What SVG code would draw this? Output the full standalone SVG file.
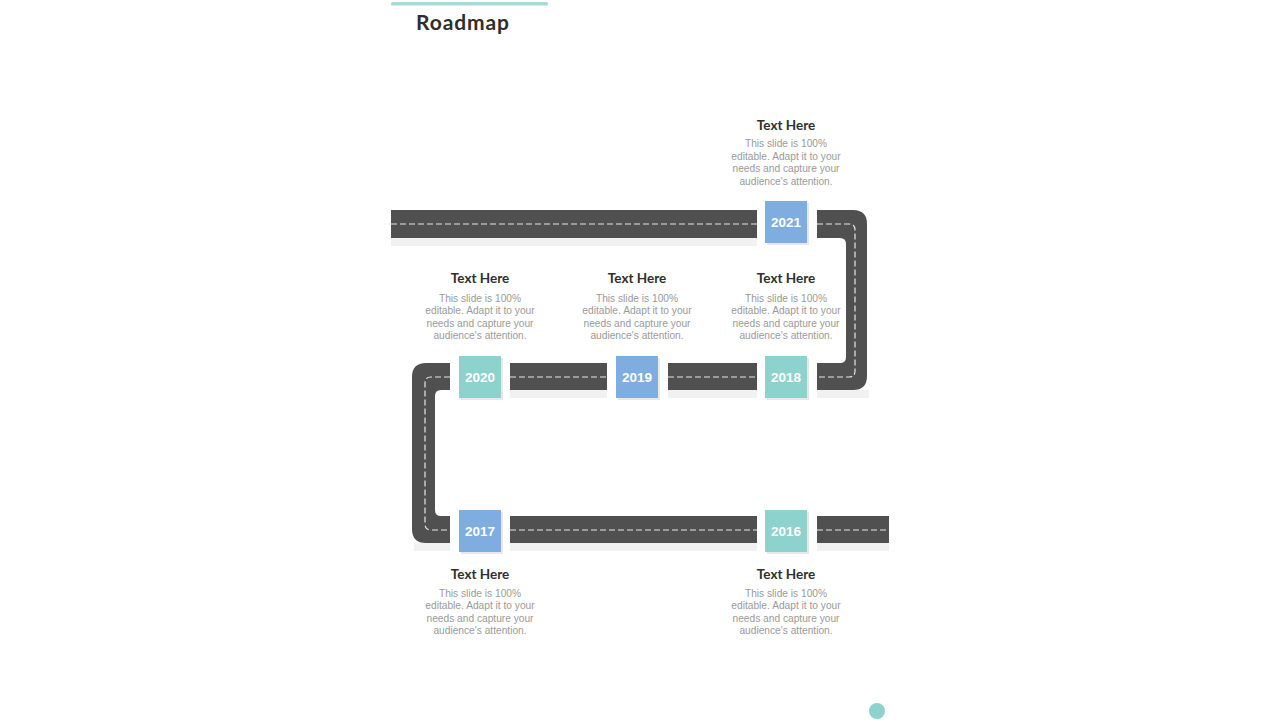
<svg xmlns="http://www.w3.org/2000/svg" width="1280" height="720" viewBox="0 0 1280 720">
<style>
.road{fill:#505050}
.shadow{fill:#f1f1f1}
.dash{fill:none;stroke:#e6e6e6;stroke-width:1.2;stroke-dasharray:6 3}
.blue{fill:#7fade0}
.teal{fill:#8dd2cd}
.bshadow{fill:#e8e8e8}
.year{font-family:"Liberation Sans",Arial,sans-serif;font-weight:bold;font-size:13.5px;fill:#ffffff;text-anchor:middle}
.head{font-family:"Lato","Liberation Sans",sans-serif;font-weight:bold;font-size:13.5px;fill:#2f2f2f;text-anchor:middle}
.body{font-family:"Liberation Sans",Arial,sans-serif;font-size:10.2px;fill:#9a9a9a;text-anchor:middle}
.title{font-family:"Lato","Liberation Sans",sans-serif;font-weight:bold;font-size:21px;letter-spacing:0.9px;fill:#2e2e2e}
</style>
<rect width="1280" height="720" fill="#ffffff"/>
<rect x="391" y="2" width="157" height="3.5" rx="1.5" fill="#a7dbd8"/>
<text class="title" x="416" y="30">Roadmap</text>

<g id="road">
  <rect class="shadow" x="391" y="238" width="366" height="8"/>
  <rect class="shadow" x="817" y="390" width="52" height="8"/>
  <rect class="shadow" x="510" y="390" width="97" height="8"/>
  <rect class="shadow" x="668" y="390" width="89" height="8"/>
  <rect class="shadow" x="414" y="543" width="36" height="8"/>
  <rect class="shadow" x="510" y="543" width="247" height="8"/>
  <rect class="shadow" x="817" y="543" width="72" height="8"/>
  <rect class="road" x="391" y="210" width="366" height="28"/>
  <path class="road" d="M817,210 H853 Q867,210 867,224 V376 Q867,390 853,390 H817 V363 H840 Q846,363 846,357 V244 Q846,238 840,238 H817 Z"/>
  <rect class="road" x="510" y="363" width="97" height="27"/>
  <rect class="road" x="668" y="363" width="89" height="27"/>
  <path class="road" d="M450,363 H426 Q412,363 412,377 V529 Q412,543 426,543 H450 V516 H441 Q435,516 435,510 V396 Q435,390 441,390 H450 Z"/>
  <rect class="road" x="510" y="516" width="247" height="27"/>
  <rect class="road" x="817" y="516" width="72" height="27"/>
  <path class="dash" d="M391,224 H757"/>
  <path class="dash" d="M817,224 H849 Q855,224 855,230 V371 Q855,377 849,377 H817"/>
  <path class="dash" d="M510,377 H607"/>
  <path class="dash" d="M668,377 H757"/>
  <path class="dash" d="M450,377 H431 Q425,377 425,383 V524 Q425,530 431,530 H450"/>
  <path class="dash" d="M510,530 H757"/>
  <path class="dash" d="M817,530 H889"/>
</g>

<g id="n2021">
  <rect class="bshadow" x="767" y="203" width="42" height="42"/>
  <rect class="blue" x="765" y="201" width="42" height="42"/>
  <text class="year" x="786" y="227">2021</text>
  <text class="head" x="786" y="130">Text Here</text>
  <text class="body" x="786" y="147">This slide is 100%</text>
  <text class="body" x="786" y="159.5">editable. Adapt  it to your</text>
  <text class="body" x="786" y="172">needs and capture your</text>
  <text class="body" x="786" y="184.5">audience's attention.</text>
</g>
<g id="n2020">
  <rect class="bshadow" x="461" y="358" width="42" height="42"/>
  <rect class="teal" x="459" y="356" width="42" height="42"/>
  <text class="year" x="480" y="382">2020</text>
  <text class="head" x="480" y="283">Text Here</text>
  <text class="body" x="480" y="301.5">This slide is 100%</text>
  <text class="body" x="480" y="314">editable. Adapt  it to your</text>
  <text class="body" x="480" y="326.5">needs and capture your</text>
  <text class="body" x="480" y="339">audience's attention.</text>
</g>
<g id="n2019">
  <rect class="bshadow" x="618" y="358" width="42" height="42"/>
  <rect class="blue" x="616" y="356" width="42" height="42"/>
  <text class="year" x="637" y="382">2019</text>
  <text class="head" x="637" y="283">Text Here</text>
  <text class="body" x="637" y="301.5">This slide is 100%</text>
  <text class="body" x="637" y="314">editable. Adapt  it to your</text>
  <text class="body" x="637" y="326.5">needs and capture your</text>
  <text class="body" x="637" y="339">audience's attention.</text>
</g>
<g id="n2018">
  <rect class="bshadow" x="767" y="358" width="42" height="42"/>
  <rect class="teal" x="765" y="356" width="42" height="42"/>
  <text class="year" x="786" y="382">2018</text>
  <text class="head" x="786" y="283">Text Here</text>
  <text class="body" x="786" y="301.5">This slide is 100%</text>
  <text class="body" x="786" y="314">editable. Adapt  it to your</text>
  <text class="body" x="786" y="326.5">needs and capture your</text>
  <text class="body" x="786" y="339">audience's attention.</text>
</g>
<g id="n2017">
  <rect class="bshadow" x="461" y="512" width="42" height="42"/>
  <rect class="blue" x="459" y="510" width="42" height="42"/>
  <text class="year" x="480" y="536">2017</text>
  <text class="head" x="480" y="579">Text Here</text>
  <text class="body" x="480" y="596.5">This slide is 100%</text>
  <text class="body" x="480" y="609">editable. Adapt  it to your</text>
  <text class="body" x="480" y="621.5">needs and capture your</text>
  <text class="body" x="480" y="634">audience's attention.</text>
</g>
<g id="n2016">
  <rect class="bshadow" x="767" y="512" width="42" height="42"/>
  <rect class="teal" x="765" y="510" width="42" height="42"/>
  <text class="year" x="786" y="536">2016</text>
  <text class="head" x="786" y="579">Text Here</text>
  <text class="body" x="786" y="596.5">This slide is 100%</text>
  <text class="body" x="786" y="609">editable. Adapt  it to your</text>
  <text class="body" x="786" y="621.5">needs and capture your</text>
  <text class="body" x="786" y="634">audience's attention.</text>
</g>
<circle cx="877" cy="711" r="8" fill="#8dd2cd"/>
</svg>
